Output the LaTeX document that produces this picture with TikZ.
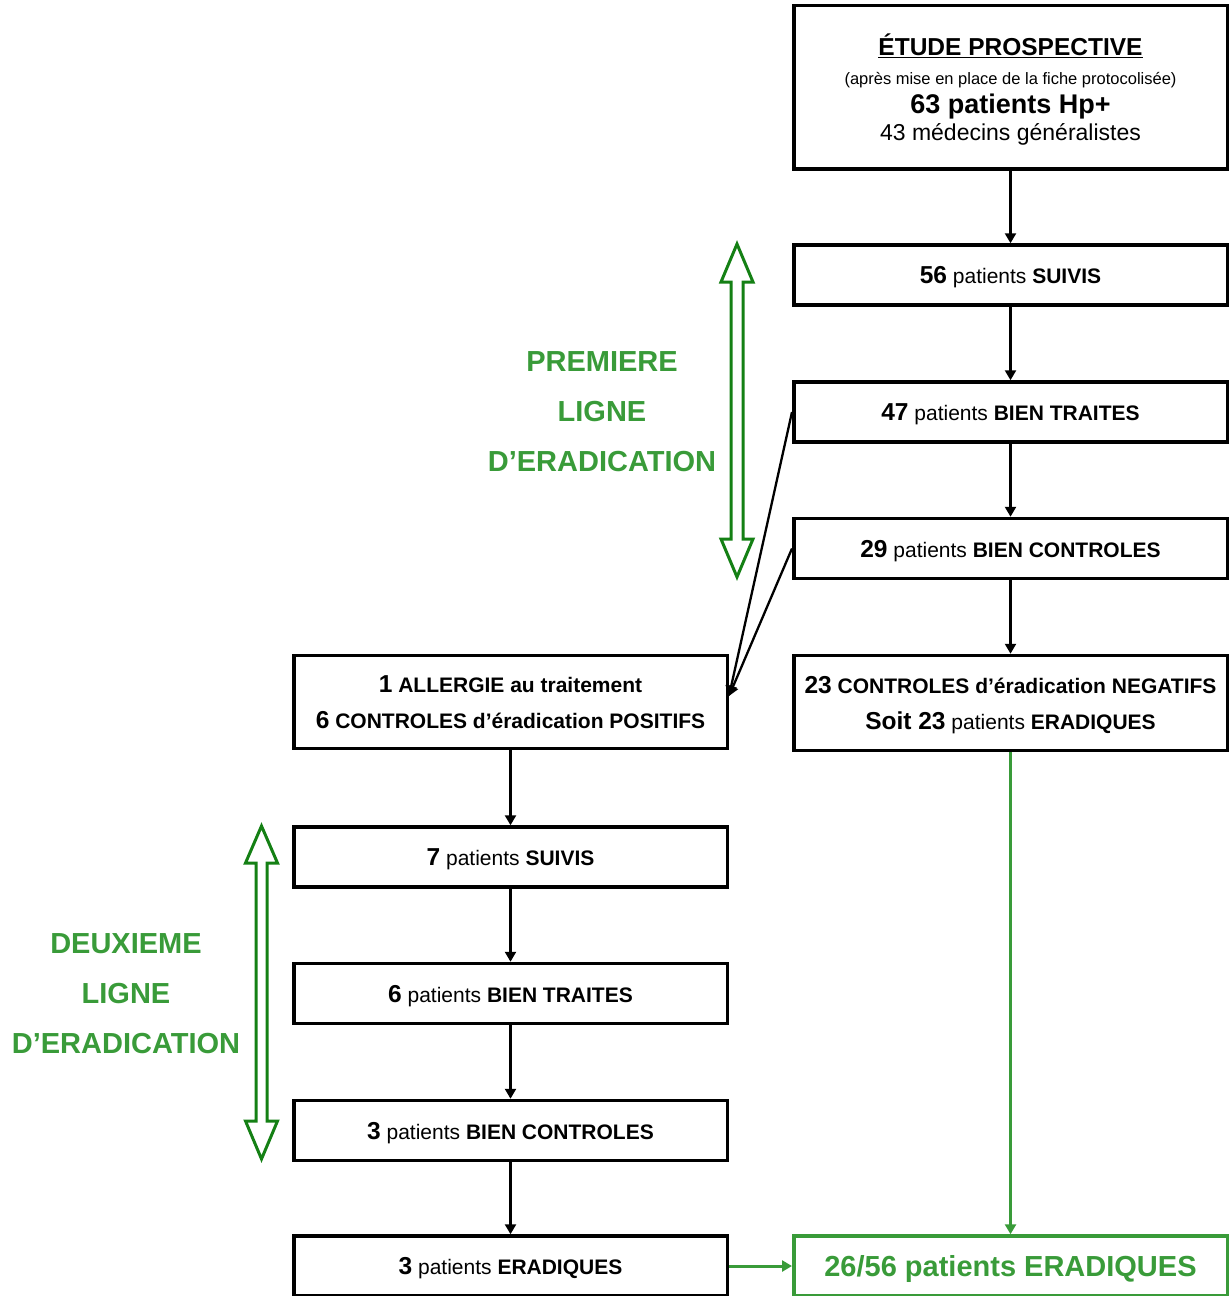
\documentclass[tikz,border=0pt]{standalone}
\usepackage{fontspec}
\setmainfont{Liberation Sans}
\usetikzlibrary{arrows.meta, positioning, calc}
\definecolor{leafgreen}{RGB}{57, 155, 57}
\definecolor{darkgreen}{RGB}{20, 128, 20}
\newcommand{\bignb}[1]{{\fontsize{24.5}{29}\selectfont\bfseries #1}}

\begin{document}
\begin{tikzpicture}[x=1pt, y=-1pt,
        flowbox/.style={draw, rectangle, line width=3.5pt, inner sep=0pt, minimum width=433.5pt, minimum height=60pt, text depth=0pt, align=center, font=\fontsize{21}{36}\selectfont},
        flow/.style={-{Triangle[length=10pt, width=11pt]}, line width=2.3pt},
        greenflow/.style={flow, draw=leafgreen, fill=leafgreen, line width=3pt},
        dblarrow/.style={draw=darkgreen, line width=3pt, line join=miter},
        sidelabel/.style={text=leafgreen, align=center, font=\bfseries\fontsize{29}{50}\selectfont}]
    \useasboundingbox (0,0) rectangle (1231,1296);

    % Nodes - first line
    \node[flowbox, minimum height=163.5pt, font=\fontsize{21}{24}\selectfont] (etude) at (1010.5,87) {
        {\fontsize{24.5}{28}\selectfont\bfseries\underline{ÉTUDE PROSPECTIVE}}\\[5pt]
        {\fontsize{16.5}{20}\selectfont (après mise en place de la fiche protocolisée)}\\[4.5pt]
        {\fontsize{27}{30}\selectfont\bfseries 63 patients Hp+}\\[3pt]
        {\fontsize{23}{26}\selectfont 43 médecins généralistes}
    };
    \node[flowbox] (suivis1) at (1010.5,275) {\bignb{56} patients \textbf{SUIVIS}};
    \node[flowbox] (traites1) at (1010.5,412) {\bignb{47} patients \textbf{BIEN TRAITES}};
    \node[flowbox] (controles1) at (1010.5,548.5) {\bignb{29} patients \textbf{BIEN CONTROLES}};
    \node[flowbox, minimum height=95pt] (negatifs) at (1010.5,703) {
        \bignb{23} \textbf{CONTROLES d’éradication NEGATIFS}\\
        \bignb{Soit 23} patients \textbf{ERADIQUES}
    };

    % Nodes - second line
    \node[flowbox, minimum height=93pt] (positifs) at (510.5,702) {
        \bignb{1} \textbf{ALLERGIE au traitement}\\
        \bignb{6} \textbf{CONTROLES d’éradication POSITIFS}
    };
    \node[flowbox] (suivis2) at (510.5,857) {\bignb{7} patients \textbf{SUIVIS}};
    \node[flowbox] (traites2) at (510.5,993.5) {\bignb{6} patients \textbf{BIEN TRAITES}};
    \node[flowbox] (controles2) at (510.5,1130.5) {\bignb{3} patients \textbf{BIEN CONTROLES}};
    \node[flowbox] (eradiques2) at (510.5,1266) {\bignb{3} patients \textbf{ERADIQUES}};

    \node[flowbox, draw=leafgreen, text=leafgreen, font=\bfseries\fontsize{29}{34}\selectfont] (total) at (1010.5,1266) {26/56 patients ERADIQUES};

    % Side labels
    \node[sidelabel] (ligne1) at (602,411.5) {PREMIERE\\LIGNE\\D’ERADICATION};
    \node[sidelabel] (ligne2) at (126,993.5) {DEUXIEME\\LIGNE\\D’ERADICATION};

    % Double arrows
    \draw[dblarrow] (737,244) -- (753,282) -- (743,282) -- (743,539) -- (753,539) -- (737,577)
        -- (721,539) -- (731,539) -- (731,282) -- (721,282) -- cycle;
    \draw[dblarrow] (261.5,826) -- (277.5,863) -- (267,863) -- (267,1121) -- (277.5,1121) -- (261.5,1159)
        -- (245.5,1121) -- (256,1121) -- (256,863) -- (245.5,863) -- cycle;

    % Arrows
    \draw[flow] (etude) -- (suivis1);
    \draw[flow] (suivis1) -- (traites1);
    \draw[flow] (traites1) -- (controles1);
    \draw[flow] (controles1) -- (negatifs);

    \coordinate (echec) at ([yshift=6pt]positifs.east);
    \draw[flow] (traites1.west) -- (echec);
    \draw[flow] (controles1.west) -- (echec);

    \draw[flow] (positifs) -- (suivis2);
    \draw[flow] (suivis2) -- (traites2);
    \draw[flow] (traites2) -- (controles2);
    \draw[flow] (controles2) -- (eradiques2);

    \draw[greenflow] (negatifs) -- (total);
    \draw[greenflow] (eradiques2) -- (total);
\end{tikzpicture}
\end{document}
